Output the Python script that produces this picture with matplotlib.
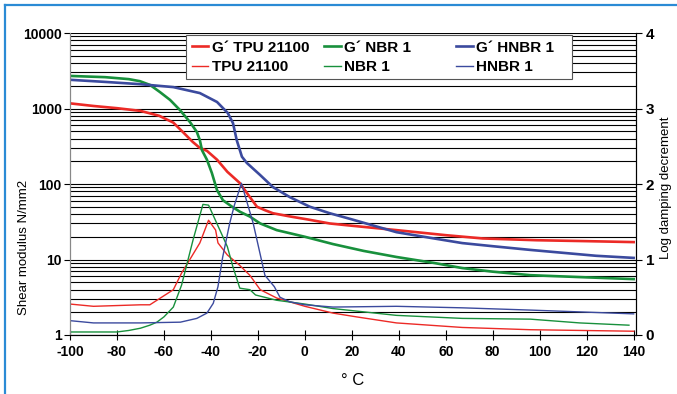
import matplotlib
matplotlib.use("Agg")
import matplotlib.pyplot as plt
from matplotlib.lines import Line2D
from matplotlib.ticker import NullFormatter, FixedLocator, LogLocator

plt.rcParams["font.family"] = ["Liberation Sans", "DejaVu Sans"]
plt.rcParams["axes.unicode_minus"] = False

# temperatura (°C) e modulo G' (N/mm2)
temp_g_tpu = [-100, -90, -80, -70, -62, -56, -52, -47.7, -44.7, -41.7, -37.4, -33, -27.7, -23.4, -20.4, -17, -13.6, -6, 1, 10.6, 20, 39, 60, 75.7, 98.7, 120, 140]
g_tpu = [1170, 1080, 1010, 930, 800, 650, 490, 360, 300, 275, 210, 145, 103, 67, 50, 45, 41, 37, 34, 30, 28, 24.5, 21, 19, 18, 17.5, 17]

temp_g_nbr = [-100, -85, -75, -70.2, -65.9, -61.7, -57.4, -53.2, -48.9, -46, -44.7, -43.8, -41.7, -39.6, -37.4, -34.9, -31, -27.7, -23.4, -19, -12, 0, 12, 25, 39, 55, 67, 80, 96, 120, 140]
g_nbr = [2700, 2600, 2450, 2300, 2050, 1650, 1300, 955, 660, 490, 380, 280, 210, 140, 83, 61, 50, 43, 37, 30, 24.5, 20, 16, 13, 10.8, 9, 7.7, 6.9, 6.2, 5.8, 5.5]

temp_g_hnbr = [-100, -85, -70.2, -56, -44.7, -37.4, -32.8, -30.6, -29, -26.8, -24.7, -19.1, -13.6, -6.4, 2.1, 10.6, 20, 39, 55, 67, 80, 96, 124, 140]
g_hnbr = [2400, 2250, 2100, 1920, 1600, 1220, 870, 640, 380, 230, 190, 132, 91, 67, 50, 41, 34, 23, 19, 16.5, 15, 13.4, 11.2, 10.5]

# decremento logaritmico
temp_d_tpu = [-100, -90, -80, -70, -66, -63, -56, -52.5, -48, -44.7, -41, -38, -37, -33, -28, -23.4, -19, -12, 0, 12, 22, 39, 67, 96, 140]
d_tpu = [0.41, 0.38, 0.39, 0.40, 0.40, 0.46, 0.60, 0.82, 1.05, 1.22, 1.52, 1.39, 1.22, 1.06, 0.93, 0.79, 0.60, 0.49, 0.38, 0.29, 0.24, 0.16, 0.10, 0.07, 0.05]

temp_d_nbr = [-100, -80, -75, -70, -66, -63, -60, -56, -52.5, -47.6, -43.4, -41, -37.5, -33, -30.6, -27.7, -23.4, -21, -12, 0, 12, 39, 67, 96, 117, 138]
d_nbr = [0.04, 0.04, 0.06, 0.09, 0.13, 0.17, 0.24, 0.37, 0.66, 1.26, 1.73, 1.72, 1.48, 1.17, 0.90, 0.62, 0.60, 0.53, 0.46, 0.41, 0.35, 0.26, 0.22, 0.21, 0.16, 0.13]

temp_d_hnbr = [-100, -90, -70, -53, -46, -41.7, -39, -37, -35, -32, -30, -27, -22, -17, -13, -10.6, -6.4, 0, 12, 39, 67, 96, 140]
d_hnbr = [0.19, 0.16, 0.16, 0.17, 0.22, 0.29, 0.42, 0.64, 1.03, 1.48, 1.72, 2.01, 1.48, 0.79, 0.64, 0.50, 0.44, 0.40, 0.37, 0.38, 0.36, 0.33, 0.28]

vermelho = "#ec2a26"
verde = "#18903c"
azul = "#3b4a9e"

fig = plt.figure(figsize=(6.77, 3.94), dpi=100)
ax = fig.add_axes([70 / 677, 1 - 335 / 394, 566 / 677, 302 / 394])
ax2 = ax.twinx()

l1, = ax.plot(temp_g_tpu, g_tpu, color=vermelho, lw=1.9, label="G´ TPU 21100")
l3, = ax.plot(temp_g_nbr, g_nbr, color=verde, lw=1.9, label="G´ NBR 1       ")
l5, = ax.plot(temp_g_hnbr, g_hnbr, color=azul, lw=1.9, label="G´ HNBR 1   ")
l2, = ax2.plot(temp_d_tpu, d_tpu, color=vermelho, lw=1.0, label="TPU 21100")
l4, = ax2.plot(temp_d_nbr, d_nbr, color=verde, lw=1.0, label="NBR 1")
l6, = ax2.plot(temp_d_hnbr, d_hnbr, color=azul, lw=1.0, label="HNBR 1")

ax.set_yscale("log")
ax.set_ylim(1, 10000)
ax.set_xlim(-100, 141)
ax2.set_ylim(0, 4)

ax.yaxis.set_minor_locator(LogLocator(base=10, subs=range(2, 10), numticks=20))
ax.yaxis.set_minor_formatter(NullFormatter())
ax.set_yticks([1, 10, 100, 1000, 10000])
ax.set_yticklabels(["1", "10", "100", "1000", "10000"])
ax.set_xticks(range(-100, 141, 20))
ax2.yaxis.set_major_locator(FixedLocator([0, 1, 2, 3, 4]))

ax.grid(True, which="both", axis="y", color="black", lw=0.8)
ax.tick_params(axis="y", which="minor", length=0)
ax.tick_params(axis="y", which="major", direction="out", length=4, labelsize=10, pad=2)
ax.tick_params(axis="x", direction="inout", length=7, labelsize=10, pad=4)
ax2.tick_params(axis="y", direction="out", length=4, labelsize=11, pad=3)
for lab in ax.get_xticklabels() + ax.get_yticklabels() + ax2.get_yticklabels():
    lab.set_fontweight("bold")

for a in (ax, ax2):
    a.spines["top"].set_visible(False)
    a.spines["left"].set_color("#888888")
    a.spines["right"].set_color("black")
    a.spines["bottom"].set_color("black")

ax.set_ylabel("Shear modulus N/mm2", fontsize=9.5)
ax.yaxis.set_label_coords(-0.07, 0.29)
ax2.set_ylabel("Log damping decrement", fontsize=9.5)
ax2.yaxis.set_label_coords(1.042, 0.487)
ax.set_xlabel("° C", fontsize=12, labelpad=10)

leg = ax.legend(handles=[l1, l2, l3, l4, l5, l6], ncol=3, loc="upper left",
                bbox_to_anchor=(114 / 566, 1.0), frameon=True, fancybox=False,
                edgecolor="#555555", framealpha=1, fontsize=11, handlelength=1.1,
                handletextpad=0.2, columnspacing=1.0, labelspacing=0.35,
                borderpad=0.35, borderaxespad=0.15)
for t in leg.get_texts():
    t.set_fontweight("bold")
leg.get_frame().set_linewidth(0.8)

# moldura azul (so esquerda e topo)
fig.add_artist(Line2D([5 / 677, 5 / 677], [0, 1 - 5 / 394], transform=fig.transFigure, color="#2b8bd5", lw=1.6))
fig.add_artist(Line2D([5 / 677, 1], [1 - 5 / 394, 1 - 5 / 394], transform=fig.transFigure, color="#2b8bd5", lw=1.6))

fig.savefig("out.png", dpi=100)
